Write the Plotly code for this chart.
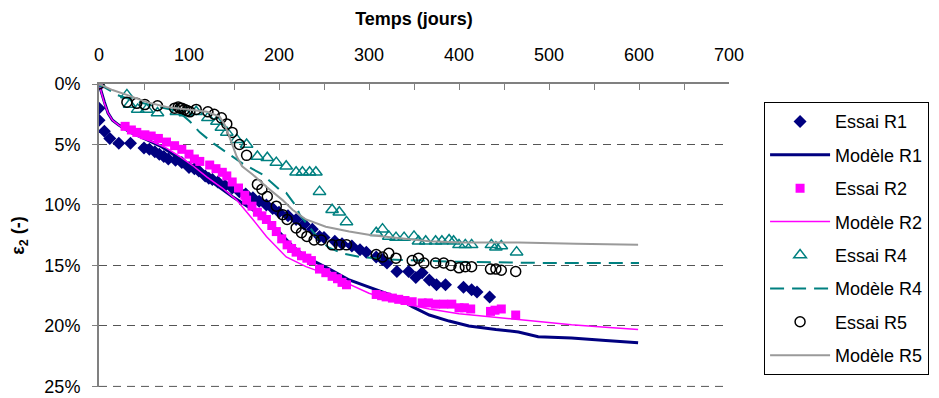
import plotly.graph_objects as go

# ---- Data (x: days, y: strain in %) ----
r1_essai_x = [0, 0, 6, 12, 22, 35, 50, 56, 62, 67, 72, 77, 85, 92, 100, 106, 111, 118, 122, 126, 132, 140, 148, 156, 163, 171, 178, 186, 193, 200, 210, 219, 228, 237, 245, 250, 262, 270, 281, 290, 297, 308, 315, 320, 331, 344, 352, 359, 367, 375, 385, 405, 414, 420, 434]
r1_essai_y = [2.0, 3.0, 3.9, 4.5, 4.9, 4.9, 5.3, 5.4, 5.6, 5.8, 6.0, 6.2, 6.3, 6.5, 6.9, 7.0, 7.2, 7.6, 7.8, 7.9, 8.1, 8.4, 8.6, 8.9, 9.1, 9.4, 9.7, 10.0, 10.3, 10.6, 10.9, 11.2, 11.6, 12.0, 12.6, 12.7, 13.0, 13.2, 13.4, 13.7, 13.9, 14.3, 14.5, 14.8, 15.5, 15.5, 16.0, 15.6, 16.2, 16.6, 16.6, 16.8, 17.0, 17.2, 17.6]

r1_model_x = [0, 3, 6, 10, 15, 22, 35, 53, 70, 84, 100, 120, 148, 175, 197, 215, 230, 256, 278, 300, 330, 348, 367, 389, 411, 441, 466, 488, 525, 563, 599]
r1_model_y = [0, 0.8, 1.5, 2.4, 3.0, 3.4, 4.0, 4.6, 5.2, 5.9, 6.7, 7.8, 9.3, 10.6, 12.0, 13.4, 14.3, 15.3, 16.2, 16.8, 17.6, 18.4, 19.1, 19.6, 20.0, 20.3, 20.5, 20.9, 21.0, 21.2, 21.4]

r2_essai_x = [0, 29, 36, 42, 51, 58, 66, 75, 84, 92, 100, 106, 112, 123, 130, 137, 142, 148, 155, 162, 164, 170, 176, 181, 186, 192, 197, 203, 209, 214, 219, 225, 231, 236, 245, 252, 259, 265, 270, 275, 308, 314, 319, 326, 333, 340, 348, 359, 366, 374, 383, 392, 400, 406, 413, 435, 440, 447, 463]
r2_essai_y = [0, 3.5, 3.8, 4.0, 4.2, 4.3, 4.5, 4.8, 5.1, 5.4, 5.8, 6.2, 6.4, 6.7, 7.0, 7.3, 7.6, 8.1, 8.6, 9.2, 9.6, 10.1, 10.6, 10.9, 11.2, 11.7, 12.2, 12.8, 13.3, 13.6, 13.9, 14.2, 14.4, 14.6, 15.3, 15.6, 15.9, 16.1, 16.4, 16.6, 17.4, 17.5, 17.6, 17.7, 17.8, 17.9, 18.0, 18.1, 18.1, 18.2, 18.2, 18.2, 18.5, 18.5, 18.6, 18.8, 18.7, 18.6, 19.1]

r2_model_x = [0, 3, 6, 10, 15, 22, 30, 45, 60, 75, 90, 105, 120, 137, 153, 171, 186, 208, 230, 256, 280, 300, 330, 367, 400, 441, 480, 525, 563, 599]
r2_model_y = [0, 0.8, 1.6, 2.4, 3.0, 3.4, 3.8, 4.4, 4.8, 5.3, 6.0, 6.8, 7.7, 8.6, 9.6, 11.2, 12.6, 14.3, 15.1, 15.8, 16.6, 17.3, 18.0, 18.6, 19.0, 19.3, 19.6, 19.9, 20.1, 20.3]

r4_essai_x = [0, 31, 34, 43, 53, 65, 86, 96, 108, 121, 131, 136, 142, 153, 164, 176, 187, 197, 208, 219, 226, 234, 241, 245, 259, 267, 275, 308, 315, 322, 330, 339, 350, 355, 363, 374, 381, 389, 394, 400, 407, 414, 436, 441, 447, 464]
r4_essai_y = [0, 0.9, 1.7, 2.1, 2.1, 2.4, 2.3, 2.4, 2.3, 2.8, 3.1, 3.6, 4.0, 4.6, 5.0, 6.0, 6.1, 6.5, 6.8, 7.3, 7.3, 7.3, 7.3, 8.9, 10.4, 10.6, 11.4, 12.3, 12.0, 12.6, 12.7, 12.7, 12.6, 13.0, 13.0, 13.0, 13.0, 12.9, 13.0, 13.3, 13.3, 13.3, 13.3, 13.5, 13.4, 13.9]

r4_model_x = [0, 20, 40, 60, 80, 90, 101, 112, 127, 143, 160, 182, 200, 208, 214, 219, 223, 230, 237, 245, 255, 270, 290, 320, 360, 400, 500, 600]
r4_model_y = [0, 0.9, 1.4, 1.8, 2.1, 2.4, 3.1, 4.0, 4.9, 5.7, 6.6, 7.5, 8.7, 9.0, 9.6, 10.1, 10.8, 11.5, 12.2, 12.9, 13.5, 14.0, 14.3, 14.5, 14.6, 14.7, 14.8, 14.8]

r5_essai_x = [0, 31, 42, 51, 65, 84, 88, 90, 92, 95, 98, 101, 108, 121, 128, 136, 142, 148, 156, 164, 176, 181, 187, 197, 204, 209, 219, 225, 231, 239, 247, 259, 267, 275, 308, 315, 322, 330, 348, 355, 361, 374, 383, 391, 400, 407, 414, 435, 441, 447, 463]
r5_essai_y = [0, 1.5, 1.6, 1.7, 1.8, 2.0, 1.9, 2.0, 2.0, 2.1, 2.2, 2.3, 2.1, 2.3, 2.5, 2.8, 3.3, 4.0, 5.0, 5.9, 8.3, 8.7, 9.3, 10.1, 10.8, 11.2, 11.9, 12.3, 12.6, 12.9, 12.9, 13.3, 13.3, 13.3, 14.1, 14.3, 14.0, 14.4, 14.6, 14.4, 14.8, 14.8, 14.8, 15.0, 15.2, 15.1, 15.1, 15.3, 15.3, 15.4, 15.5]

r5_model_x = [0, 15, 31, 53, 75, 100, 120, 134, 140, 145, 153, 159, 171, 186, 204, 215, 230, 252, 278, 303, 330, 367, 403, 466, 530, 599]
r5_model_y = [0, 0.5, 0.9, 1.5, 1.9, 2.1, 2.3, 2.7, 3.4, 4.4, 6.0, 6.8, 7.5, 8.5, 9.6, 10.4, 11.2, 11.8, 12.2, 12.5, 12.7, 13.0, 13.1, 13.1, 13.2, 13.3]

x_ticks = [0, 100, 200, 300, 400, 500, 600, 700]
y_ticks = [0, 5, 10, 15, 20, 25]
y_tick_labels = ["0%", "5%", "10%", "15%", "20%", "25%"]
y_max = 25

FONT = "Liberation Sans, Arial, sans-serif"
GRID_COLOR = "#555555"
GRID_DASH = "8px,6px"

fig = go.Figure()

def add(name, x, y, **kw):
    fig.add_trace(go.Scatter(x=x, y=y, name=name, legendgroup=name, **kw))

add("Essai R1", r1_essai_x, r1_essai_y, mode="markers",
    marker=dict(symbol="diamond", size=10, color="#000080"))
add("Modèle R1", r1_model_x, r1_model_y, mode="lines",
    line=dict(color="#000080", width=3))
add("Essai R2", r2_essai_x, r2_essai_y, mode="markers",
    marker=dict(symbol="square", size=9, color="#FF00FF"))
add("Modèle R2", r2_model_x, r2_model_y, mode="lines",
    line=dict(color="#FF00FF", width=1.5))
add("Essai R4", r4_essai_x, r4_essai_y, mode="markers",
    marker=dict(symbol="triangle-up-open", size=11, color="#008080", line=dict(width=1.5)))
add("Modèle R4", r4_model_x, r4_model_y, mode="lines",
    line=dict(color="#008080", width=2, dash="14px,8px"))
add("Essai R5", r5_essai_x, r5_essai_y, mode="markers",
    marker=dict(symbol="circle-open", size=10, color="#000000", line=dict(width=1.5)))
add("Modèle R5", r5_model_x, r5_model_y, mode="lines",
    line=dict(color="#9a9a9a", width=2))

# page body has an 8px margin: figure is 931x390 placed at (8, 8)
fig.update_layout(
    width=931, height=390,
    margin=dict(l=91, r=209, t=76, b=11),
    paper_bgcolor="white", plot_bgcolor="white",
    font=dict(family=FONT, size=18, color="black"),
    showlegend=True,
    legend=dict(
        x=1.054, y=0.94, xanchor="left", yanchor="top",
        bordercolor="black", borderwidth=1, bgcolor="white",
        font=dict(family=FONT, size=18, color="black"),
        itemwidth=60, tracegroupgap=7,
    ),
    # bottom gridline at the range edge (plotly omits gridlines at the edge)
    shapes=[dict(type="line", xref="paper", x0=0, x1=1, yref="y", y0=y_max, y1=y_max,
                 line=dict(color=GRID_COLOR, width=1, dash=GRID_DASH), layer="below")],
)

fig.update_xaxes(
    side="top", range=[0, 700], tickvals=x_ticks, automargin=False,
    showline=True, linecolor="#808080", linewidth=2,
    ticks="inside", ticklen=6, tickcolor="#808080", tickwidth=1,
    minor=dict(dtick=50, ticks="inside", ticklen=6, tickcolor="#808080"),
    showgrid=False, zeroline=False,
    ticklabelstandoff=14,
    tickfont=dict(family=FONT, size=18),
    title=dict(text="<b>Temps (jours)</b>", font=dict(family=FONT, size=18), standoff=14),
)

fig.update_yaxes(
    range=[25.05, 0], tickvals=y_ticks, ticktext=y_tick_labels, automargin=False,
    showline=True, linecolor="#808080", linewidth=2,
    ticks="outside", ticklen=5, tickcolor="#808080",
    showgrid=True, gridcolor=GRID_COLOR, gridwidth=1, griddash=GRID_DASH,
    zeroline=False,
    ticklabelstandoff=8,
    tickfont=dict(family=FONT, size=18),
    title=dict(text="<b>ε<sub>2</sub> (-)</b>", font=dict(family=FONT, size=18), standoff=18),
)

fig.write_html("out.html")
